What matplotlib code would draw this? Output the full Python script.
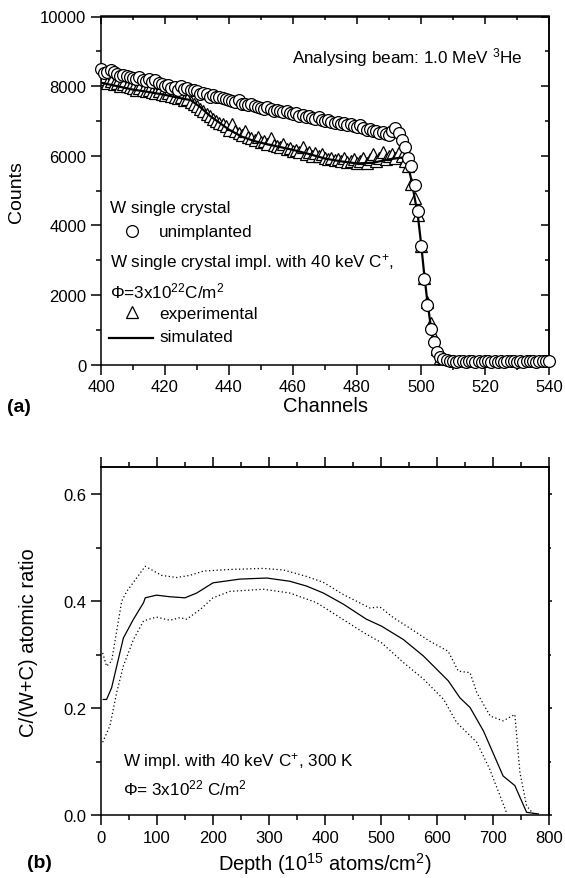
import matplotlib
matplotlib.use("Agg")
import matplotlib.pyplot as plt
from matplotlib.ticker import MultipleLocator, FormatStrFormatter

plt.rcParams["font.family"] = ["Liberation Sans", "DejaVu Sans"]
plt.rcParams["mathtext.fontset"] = "custom"
plt.rcParams["mathtext.rm"] = "Liberation Sans"
plt.rcParams["mathtext.it"] = "Liberation Sans:italic"
plt.rcParams["mathtext.bf"] = "Liberation Sans:bold"

# =========================
# Panel (a): RBS spectra
# =========================

channels = list(range(400, 541))

unimplanted = [
    8500, 8380, 8420, 8450, 8400, 8350, 8300, 8330, 8280, 8250,
    8230, 8200, 8250, 8180, 8150, 8200, 8120, 8180, 8080, 8050,
    8000, 8020, 7950, 7970, 7900, 8000, 7930, 7950, 7900, 7880,
    7850, 7780, 7800, 7760, 7700, 7750, 7690, 7700, 7650, 7620,
    7600, 7580, 7550, 7600, 7500, 7480, 7450, 7500, 7420, 7400,
    7380, 7350, 7400, 7330, 7300, 7320, 7280, 7250, 7300, 7230,
    7200, 7220, 7150, 7180, 7100, 7130, 7080, 7050, 7100, 7030,
    7000, 7020, 6980, 6950, 6970, 6900, 6930, 6880, 6900, 6850,
    6820, 6880, 6800, 6750, 6780, 6700, 6720, 6650, 6680, 6620,
    6600, 6700, 6800, 6650, 6450, 6250, 5950, 5700, 5150, 4400,
    3420, 2460, 1720, 1030, 650, 365, 210, 150, 130, 110,
    100, 90, 110, 95, 85, 100, 120, 90, 100, 80,
    110, 95, 90, 105, 85, 100, 90, 110, 95, 100,
    85, 105, 90, 100, 95, 110, 90, 100, 95, 105,
    110,
]

experimental = [
    8150, 8200, 8100, 8150, 8050, 8100, 8000, 8050, 8000, 7980,
    7950, 7900, 7950, 7880, 7850, 7900, 7820, 7800, 7850, 7780,
    7750, 7800, 7720, 7700, 7650, 7680, 7600, 7620, 7550, 7500,
    7420, 7350, 7300, 7200, 7150, 7050, 7000, 6950, 6900, 6850,
    6750, 6900, 6700, 6650, 6600, 6700, 6550, 6500, 6450, 6550,
    6400, 6420, 6350, 6500, 6300, 6280, 6250, 6350, 6200, 6220,
    6150, 6180, 6100, 6250, 6050, 6100, 6000, 6080, 5980, 6050,
    5950, 5900, 5950, 5880, 5900, 5850, 5950, 5830, 5850, 5900,
    5800, 5850, 5950, 5800, 5900, 6050, 5850, 5950, 6100, 5900,
    6000, 6050, 5950, 6100, 6000, 5850, 5700, 5200, 4800, 4300,
    3400, 2500, 1800, 1200, 800, 450, 200, 80, 40, 30,
    40, 30, 50, 40, 30, 45, 35, 40, 30, 50,
    40, 35, 30, 45, 40, 35, 50, 40, 30, 40,
    35, 45, 40, 30, 40, 50, 35, 40, 45, 30,
    40,
]

sim_channels = [400, 405, 410, 415, 420, 425, 428, 431, 434, 437, 440, 444,
                448, 452, 456, 460, 465, 470, 475, 480, 485, 490, 494, 496,
                497, 498, 499, 500, 501, 502, 503, 504, 505, 506, 507, 510,
                540]
simulated = [8100, 8000, 7900, 7830, 7750, 7650, 7600, 7400, 7150, 6950,
             6750, 6550, 6420, 6330, 6250, 6170, 6050, 5920, 5840, 5780,
             5800, 5900, 5950, 5700, 5300, 4800, 4300, 3500, 2600, 1800,
             1150, 650, 300, 120, 50, 30, 30]

# =========================
# Panel (b): C depth profile
# =========================

depth_mid = [4, 10, 19, 28, 40, 58, 76, 79, 99, 123, 150, 171, 200, 248,
             296, 337, 367, 397, 433, 474, 501, 540, 576, 620, 641, 659,
             683, 718, 739, 760, 781]
ratio_mid = [0.216, 0.216, 0.238, 0.278, 0.331, 0.366, 0.397, 0.406, 0.411,
             0.408, 0.406, 0.415, 0.434, 0.441, 0.443, 0.437, 0.428, 0.415,
             0.394, 0.366, 0.353, 0.328, 0.297, 0.251, 0.219, 0.201, 0.157,
             0.073, 0.055, 0.005, 0.002]

depth_upper = [3, 10, 19, 37, 46, 79, 108, 135, 159, 183, 230, 290, 326,
               367, 397, 433, 480, 498, 522, 546, 587, 620, 638, 659, 671,
               695, 718, 739, 748, 760, 772]
ratio_upper = [0.303, 0.278, 0.288, 0.400, 0.418, 0.465, 0.448, 0.444, 0.448,
               0.456, 0.459, 0.461, 0.458, 0.446, 0.435, 0.412, 0.387, 0.389,
               0.369, 0.353, 0.325, 0.306, 0.269, 0.266, 0.229, 0.185, 0.176,
               0.188, 0.080, 0.017, 0.002]

depth_lower = [3, 16, 28, 40, 58, 76, 99, 123, 141, 153, 177, 200, 230, 290,
               337, 385, 427, 469, 501, 540, 576, 612, 635, 671, 694, 724]
ratio_lower = [0.136, 0.167, 0.229, 0.279, 0.328, 0.363, 0.370, 0.364, 0.369,
               0.366, 0.384, 0.406, 0.418, 0.422, 0.415, 0.397, 0.369, 0.341,
               0.322, 0.285, 0.254, 0.216, 0.173, 0.136, 0.086, 0.005]


W, H = 565, 879
fig = plt.figure(figsize=(W / 100, H / 100), dpi=100)

TXT = 12.3
TICK = 12


def axes_rect(left, top, right, bottom):
    return [left / W, 1 - bottom / H, (right - left) / W, (bottom - top) / H]


def style_ticks(ax, xmaj, xmin, ymaj, ymin):
    ax.xaxis.set_major_locator(MultipleLocator(xmaj))
    ax.xaxis.set_minor_locator(MultipleLocator(xmin))
    ax.yaxis.set_major_locator(MultipleLocator(ymaj))
    ax.yaxis.set_minor_locator(MultipleLocator(ymin))
    ax.tick_params(which="both", direction="out", top=False, right=False,
                   labelsize=TICK, width=1.1)
    ax.tick_params(which="major", length=7)
    ax.tick_params(which="minor", length=3.5)
    for sp in ax.spines.values():
        sp.set_linewidth(1.1)


def mirror_ticks(ax, xmaj, xmin, ymaj, ymin, top_dir, right_dir, top_len,
                 right_len):
    top = ax.secondary_xaxis("top")
    top.xaxis.set_major_locator(MultipleLocator(xmaj))
    top.xaxis.set_minor_locator(MultipleLocator(xmin))
    top.tick_params(which="both", direction=top_dir, labeltop=False, width=1.1)
    top.tick_params(which="major", length=top_len)
    top.tick_params(which="minor", length=top_len / 2)
    right = ax.secondary_yaxis("right")
    right.yaxis.set_major_locator(MultipleLocator(ymaj))
    right.yaxis.set_minor_locator(MultipleLocator(ymin))
    right.tick_params(which="both", direction=right_dir, labelright=False,
                      width=1.1)
    right.tick_params(which="major", length=right_len)
    right.tick_params(which="minor", length=right_len / 2)
    for sec in (top, right):
        for sp in sec.spines.values():
            sp.set_linewidth(1.1)


# ---------- (a) ----------
ax_a = fig.add_axes(axes_rect(101, 17.5, 549, 365.7))

ax_a.plot(channels, experimental, linestyle="none", marker="^", markersize=9,
          markerfacecolor="white", markeredgecolor="black", markeredgewidth=0.9,
          zorder=2)
ax_a.plot(sim_channels, simulated, color="black", linewidth=1.6, zorder=3)
ax_a.plot(channels, unimplanted, linestyle="none", marker="o", markersize=8.5,
          markerfacecolor="white", markeredgecolor="black", markeredgewidth=0.9,
          zorder=4, clip_on=False)

ax_a.set_xlim(400, 540)
ax_a.set_ylim(0, 10000)
style_ticks(ax_a, 20, 10, 2000, 1000)
mirror_ticks(ax_a, 20, 10, 2000, 1000, "in", "in", 6, 6)

ax_a.set_xlabel("Channels", fontsize=14.5, labelpad=1)
ax_a.set_ylabel("Counts", fontsize=14)
ax_a.yaxis.set_label_coords(-0.17, 0.5)


def fa(px, py):
    return (px - 101) / 448, (365.7 - py) / 348.2


tf = ax_a.transAxes
ax_a.text(*fa(522, 58), "Analysing beam: 1.0 MeV $^{3}$He", transform=tf,
          ha="right", va="center", fontsize=TXT)
ax_a.text(*fa(110, 208), "W single crystal", transform=tf, ha="left",
          va="center", fontsize=TXT)
ax_a.plot(*fa(132, 232), marker="o", markersize=8.5, markerfacecolor="white",
          markeredgecolor="black", markeredgewidth=0.9, transform=tf)
ax_a.text(*fa(159, 232), "unimplanted", transform=tf, ha="left", va="center",
          fontsize=TXT)
ax_a.text(*fa(110, 263), "W single crystal impl. with 40 keV C$^{+}$,",
          transform=tf, ha="left", va="center", fontsize=TXT)
ax_a.text(*fa(110, 291), "Φ=3x10$^{22}$C/m$^{2}$", transform=tf, ha="left",
          va="center", fontsize=TXT)
ax_a.plot(*fa(132, 313), marker="^", markersize=9, markerfacecolor="white",
          markeredgecolor="black", markeredgewidth=0.9, transform=tf)
ax_a.text(*fa(159, 315), "experimental", transform=tf, ha="left", va="center",
          fontsize=TXT)
x0, y0 = fa(109, 339)
x1, _ = fa(153, 339)
ax_a.plot([x0, x1], [y0, y0], color="black", linewidth=1.6, transform=tf)
ax_a.text(*fa(159, 338), "simulated", transform=tf, ha="left", va="center",
          fontsize=TXT)

fig.text(7 / W, 1 - 407 / H, "(a)", fontsize=14, fontweight="bold",
         ha="left", va="center")

# ---------- (b) ----------
ax_b = fig.add_axes(axes_rect(101, 468.3, 549, 816))

ax_b.plot(depth_mid, ratio_mid, color="black", linewidth=0.9)
ax_b.plot(depth_upper, ratio_upper, color="black", linewidth=0.9,
          linestyle=(0, (1, 2)))
ax_b.plot(depth_lower, ratio_lower, color="black", linewidth=0.9,
          linestyle=(0, (1, 2)))

ax_b.set_xlim(0, 800)
ax_b.set_ylim(0, 0.65)
style_ticks(ax_b, 100, 50, 0.2, 0.1)
ax_b.yaxis.set_major_formatter(FormatStrFormatter("%.1f"))
mirror_ticks(ax_b, 100, 50, 0.2, 0.1, "out", "out", 7, 2.5)

ax_b.set_xlabel("Depth (10$^{15}$ atoms/cm$^{2}$)", fontsize=14.5, labelpad=4)
ax_b.set_ylabel("C/(W+C) atomic ratio", fontsize=14.5)
ax_b.yaxis.set_label_coords(-0.14, 0.5)

tb = ax_b.transAxes


def fb(px, py):
    return (px - 101) / 448, (816 - py) / 347.7


ax_b.text(*fb(123, 761), "W impl. with 40 keV C$^{+}$, 300 K", transform=tb,
          ha="left", va="center", fontsize=TXT)
ax_b.text(*fb(123, 788), "Φ= 3x10$^{22}$ C/m$^{2}$", transform=tb,
          ha="left", va="center", fontsize=TXT)

fig.text(27 / W, 1 - 864 / H, "(b)", fontsize=14, fontweight="bold",
         ha="left", va="center")

fig.savefig("out.png", dpi=100)
